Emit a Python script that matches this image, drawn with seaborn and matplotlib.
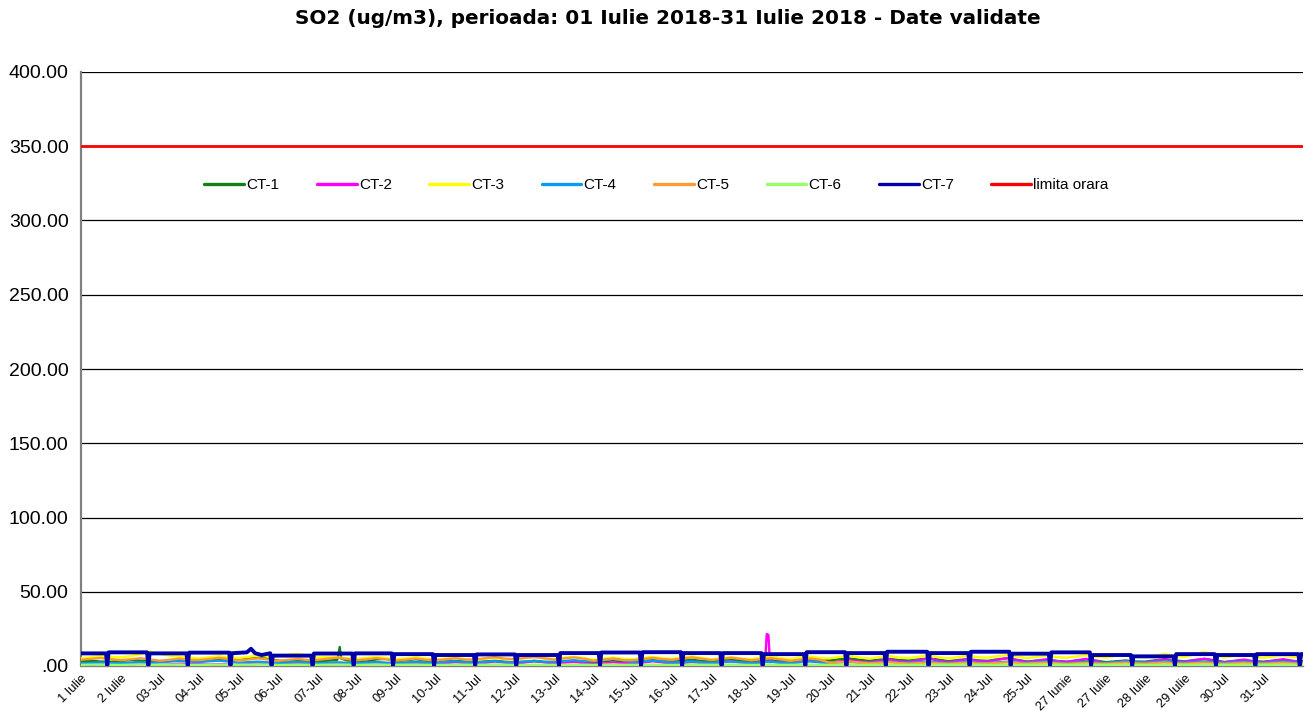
import numpy as np
import pandas as pd
import matplotlib
matplotlib.use("Agg")
import matplotlib.pyplot as plt
import seaborn as sns

# ---------------- data ----------------
title = "SO2 (ug/m3), perioada: 01 Iulie 2018-31 Iulie 2018 - Date validate"
x_tick_labels = ["1 Iulie", "2 Iulie", "03-Jul", "04-Jul", "05-Jul", "06-Jul", "07-Jul",
                 "08-Jul", "09-Jul", "10-Jul", "11-Jul", "12-Jul", "13-Jul", "14-Jul",
                 "15-Jul", "16-Jul", "17-Jul", "18-Jul", "19-Jul", "20-Jul", "21-Jul",
                 "22-Jul", "23-Jul", "24-Jul", "25-Jul", "27 Iunie", "27 Iulie",
                 "28 Iulie", "29 Iulie", "30-Jul", "31-Jul"]
y_ticks = [0, 50, 100, 150, 200, 250, 300, 350, 400]
y_tick_labels = [".00", "50.00", "100.00", "150.00", "200.00", "250.00", "300.00",
                 "350.00", "400.00"]
limit_value = 350

sample_hours = list(range(0, 745, 6))

ct1 = [3.2, 3.5, 3.0, 2.8, 3.4, 4.0, 3.6, 3.1, 2.9, 3.3, 4.1, 3.6, 3.0, 3.8, 4.4, 3.9,
       4.2, 5.5, 6.5, 4.8, 3.6, 3.2, 4.0, 3.5, 3.1, 3.6, 4.2, 3.8, 3.4, 3.0, 4.5, 4.8,
       3.2, 3.9, 4.6, 3.5, 2.8, 3.1, 3.4, 3.0, 2.6, 3.0, 3.5, 2.9, 2.5, 2.8, 3.2, 2.7,
       2.4, 2.9, 3.3, 2.6, 2.7, 3.2, 3.8, 3.0, 2.9, 3.4, 3.9, 3.3, 3.0, 3.6, 4.2, 3.4,
       3.1, 4.0, 4.5, 3.7, 2.8, 3.3, 3.9, 3.2, 3.0, 3.7, 4.3, 3.5, 3.8, 4.6, 5.0, 4.2,
       3.5, 4.2, 4.8, 4.0, 3.6, 4.4, 5.1, 4.3, 3.2, 4.0, 4.6, 3.8, 3.4, 4.5, 5.2, 4.1,
       3.0, 3.6, 4.2, 3.4, 2.8, 3.5, 4.4, 3.6, 2.6, 3.1, 3.7, 3.0, 2.9, 3.8, 4.5, 3.7,
       3.1, 4.0, 4.7, 3.9, 2.7, 3.3, 3.9, 3.1, 2.9, 3.5, 4.1, 3.3, 3.0]
ct1_peak_hours = [156.5, 157.5, 158.5]
ct1_peak_values = [6.0, 12.8, 5.0]

ct2 = [1.0, 0.8, 1.4, 1.2, 0.9, 1.1, 1.6, 1.3, 0.8, 1.0, 1.5, 1.2, 1.1, 0.9, 1.3, 1.0,
       0.8, 1.2, 1.7, 1.4, 1.0, 1.3, 1.8, 1.5, 0.9, 1.2, 1.6, 1.1, 1.0, 1.4, 1.9, 1.3,
       1.2, 1.5, 2.2, 1.6, 1.3, 1.8, 2.6, 1.9, 1.5, 2.0, 3.1, 2.2, 1.4, 2.3, 3.4, 2.5,
       1.6, 2.1, 2.8, 1.9, 1.3, 1.7, 2.4, 1.8, 1.5, 2.2, 3.2, 2.4, 1.4, 1.9, 2.7, 2.0,
       1.6, 2.4, 3.3, 2.3, 1.7, 2.2, 3.0, 2.1, 1.8, 2.6, 3.4, 2.5, 2.2, 3.1, 4.0, 3.0,
       2.5, 3.4, 4.4, 3.2, 2.8, 3.9, 5.0, 3.6, 2.6, 3.5, 4.6, 3.4, 3.0, 4.2, 5.3, 3.9,
       2.7, 3.6, 4.5, 3.3, 2.9, 3.8, 4.8, 3.5, 1.5, 2.6, 3.4, 2.2, 2.4, 3.5, 4.4, 3.2,
       2.8, 3.9, 4.9, 3.6, 2.5, 3.4, 4.3, 3.1, 2.6, 3.6, 4.6, 3.4, 3.0]
ct2_peak_hours = [416.5, 417.5, 418.5, 419.5]
ct2_peak_values = [2.5, 21.5, 21.0, 2.5]

ct3 = [5.2, 6.0, 6.8, 6.1, 5.8, 6.6, 7.9, 9.6, 8.2, 6.9, 6.4, 5.7, 5.1, 5.9, 6.6, 5.8,
       5.4, 6.2, 7.0, 6.3, 6.8, 7.6, 8.1, 6.9, 5.6, 6.1, 5.8, 5.2, 4.8, 5.5, 6.1, 5.3,
       4.6, 5.2, 5.9, 5.0, 4.4, 5.0, 5.6, 4.7, 4.2, 4.9, 5.4, 4.5, 4.5, 5.3, 6.0, 5.1,
       4.8, 5.6, 6.2, 5.4, 4.3, 5.0, 5.7, 4.9, 4.6, 5.4, 6.1, 5.2, 4.9, 5.8, 6.4, 5.5,
       4.5, 5.3, 5.9, 5.0, 4.7, 5.5, 6.2, 5.3, 4.8, 5.7, 6.3, 5.4, 5.2, 6.1, 6.8, 5.8,
       5.0, 6.0, 6.7, 5.7, 5.4, 6.3, 7.1, 6.0, 5.1, 6.0, 6.9, 5.9, 5.6, 6.6, 7.4, 6.4,
       5.3, 6.2, 7.0, 6.0, 5.5, 6.4, 7.2, 6.2, 5.7, 6.8, 7.6, 6.6, 6.0, 7.1, 8.0, 6.9,
       6.2, 7.8, 9.4, 7.5, 5.8, 6.7, 7.4, 6.3, 5.6, 6.5, 7.2, 6.1, 5.9]

ct4 = [1.8, 2.1, 2.4, 2.0, 1.9, 2.3, 2.6, 2.2, 2.5, 3.0, 3.4, 2.9, 2.7, 3.2, 3.6, 3.0,
       2.2, 2.6, 2.9, 2.4, 2.0, 2.4, 2.8, 2.3, 1.9, 2.2, 2.5, 2.1, 2.0, 2.3, 2.7, 2.2,
       2.1, 2.4, 2.8, 2.3, 2.3, 2.8, 3.2, 2.6, 2.4, 2.9, 3.3, 2.7, 2.5, 3.0, 3.5, 2.9,
       2.8, 3.4, 3.9, 3.2, 3.2, 4.0, 4.8, 3.8, 2.6, 3.1, 3.6, 3.0, 2.3, 2.7, 3.1, 2.5,
       2.2, 2.6, 3.0, 2.4, 2.1, 2.5, 2.9, 2.3, 2.2, 2.7, 3.1, 2.5, 2.0, 2.4, 2.8, 2.2,
       2.1, 2.5, 2.9, 2.3, 2.2, 2.6, 3.0, 2.4, 2.0, 2.4, 2.8, 2.2, 2.1, 2.5, 2.9, 2.3,
       2.2, 2.6, 3.0, 2.4, 2.0, 2.4, 2.8, 2.2, 2.1, 2.6, 3.1, 2.5, 2.3, 2.7, 3.2, 2.6,
       2.2, 2.6, 3.0, 2.4, 2.1, 2.5, 2.9, 2.3, 2.2, 2.6, 3.0, 2.4, 2.2]

ct5 = [4.2, 4.8, 5.4, 4.6, 3.9, 4.5, 5.2, 4.4, 3.6, 4.2, 5.0, 4.1, 4.0, 4.7, 5.5, 4.6,
       3.8, 4.4, 5.1, 4.3, 3.5, 4.1, 4.8, 4.0, 4.1, 4.9, 5.6, 4.7, 3.9, 4.6, 5.3, 4.4,
       3.7, 4.3, 5.0, 4.2, 3.8, 4.5, 5.2, 4.3, 4.4, 5.2, 5.9, 5.0, 4.6, 5.4, 6.1, 5.2,
       4.3, 5.1, 5.8, 4.9, 3.6, 4.2, 4.9, 4.0, 3.9, 4.7, 5.5, 4.6, 4.2, 5.0, 5.8, 4.9,
       4.0, 4.8, 5.6, 4.7, 3.8, 4.6, 5.3, 4.4, 3.5, 4.3, 5.0, 4.2, 2.2, 2.6, 3.0, 2.4,
       1.8, 2.2, 2.6, 2.0, 1.6, 2.0, 2.4, 1.8, 1.5, 1.9, 2.3, 1.7, 1.7, 2.1, 2.5, 1.9,
       1.6, 2.0, 2.4, 1.8, 1.4, 1.8, 2.2, 1.6, 1.5, 1.9, 2.3, 1.7, 1.6, 2.0, 2.4, 1.8,
       1.5, 1.9, 2.3, 1.7, 1.4, 1.8, 2.2, 1.6, 1.5, 1.9, 2.3, 1.7, 1.6]

ct6 = [0.8, 0.9, 1.0, 0.8, 0.7, 0.9, 1.1, 0.9, 0.8, 0.9, 1.0, 0.8, 0.7, 0.8, 1.0, 0.9,
       0.8, 0.9, 1.1, 0.9, 0.7, 0.8, 1.0, 0.8, 0.8, 0.9, 1.0, 0.9, 0.7, 0.9, 1.1, 0.8,
       0.8, 0.9, 1.0, 0.8, 0.7, 0.8, 1.0, 0.9, 0.8, 0.9, 1.1, 0.9, 0.7, 0.8, 1.0, 0.8,
       0.8, 0.9, 1.0, 0.9, 0.7, 0.9, 1.1, 0.8, 0.8, 0.9, 1.0, 0.8, 0.7, 0.8, 1.0, 0.9,
       0.8, 0.9, 1.1, 0.9, 0.7, 0.8, 1.0, 0.8, 0.8, 0.9, 1.0, 0.9, 0.7, 0.9, 1.1, 0.8,
       0.8, 0.9, 1.0, 0.8, 0.7, 0.8, 1.0, 0.9, 0.8, 0.9, 1.1, 0.9, 0.7, 0.8, 1.0, 0.8,
       0.8, 0.9, 1.0, 0.9, 0.7, 0.9, 1.1, 0.8, 0.8, 0.9, 1.0, 0.8, 0.7, 0.8, 1.0, 0.9,
       0.8, 0.9, 1.1, 0.9, 0.7, 0.8, 1.0, 0.8, 0.8, 0.9, 1.0, 0.9, 0.8]

# CT-7: steady level between short calibration dips (hours of the dips, level of each stretch)
ct7_dip_hours = [16, 41, 65, 91, 116, 141, 166, 190, 215, 240, 265, 291, 316, 341, 366,
                 390, 415, 441, 466, 490, 516, 541, 566, 590, 615, 640, 666, 691, 715, 742]
ct7_dip_value = 0.4
ct7_levels = [8.5, 9.2, 8.5, 9.0, 8.6, 7.0, 8.4, 8.5, 8.0, 7.4, 7.8, 7.4, 8.7, 9.1, 9.3,
              8.7, 8.7, 8.0, 9.3, 8.7, 9.6, 8.7, 9.6, 8.3, 9.2, 7.4, 6.5, 8.0, 7.4, 8.0, 8.0]
ct7_bump_hours = [101.0, 103.5, 106.0, 110.0]
ct7_bump_values = [9.2, 11.6, 8.6, 7.4]

series_names = ["CT-1", "CT-2", "CT-3", "CT-4", "CT-5", "CT-6", "CT-7", "limita orara"]
series_colors = ["#138013", "#ff00ff", "#ffff00", "#0a9af0", "#ff9933", "#99ff66",
                 "#0000a8", "#ff0000"]

# ---------------- build tables ----------------
def merged(hours, values, extra_h=(), extra_v=()):
    df = pd.DataFrame({"hour": list(hours) + list(extra_h),
                       "value": list(values) + list(extra_v)})
    return df.sort_values("hour").reset_index(drop=True)

tables = {
    "CT-1": merged(sample_hours, ct1, ct1_peak_hours, ct1_peak_values),
    "CT-2": merged(sample_hours, ct2, ct2_peak_hours, ct2_peak_values),
    "CT-3": merged(sample_hours, ct3),
    "CT-4": merged(sample_hours, ct4),
    "CT-5": merged(sample_hours, ct5),
    "CT-6": merged(sample_hours, ct6),
}

h7 = [0]
v7 = [ct7_levels[0]]
for i, d in enumerate(ct7_dip_hours):
    h7 += [d - 0.8, d, d + 0.8]
    v7 += [ct7_levels[i], ct7_dip_value, ct7_levels[i + 1]]
h7.append(744)
v7.append(ct7_levels[-1])
tables["CT-7"] = merged(h7, v7, ct7_bump_hours, ct7_bump_values)
tables["limita orara"] = pd.DataFrame({"hour": [0, 744], "value": [limit_value, limit_value]})

# ---------------- plot ----------------
sns.set_style("white")
plt.rcParams["font.family"] = ["Liberation Sans", "DejaVu Sans"]
plt.rcParams["text.color"] = "black"
plt.rcParams["xtick.color"] = "black"
plt.rcParams["ytick.color"] = "black"

fig = plt.figure(figsize=(13.1, 7.11), dpi=100)
ax = fig.add_axes([81 / 1310, 1 - 666 / 711, (1303 - 81) / 1310, (666 - 72) / 711])

widths = {"CT-7": 2.8, "limita orara": 2.0}
for name, color in zip(series_names, series_colors):
    sns.lineplot(data=tables[name], x="hour", y="value", ax=ax, color=color,
                 linewidth=widths.get(name, 1.7), label=name, estimator=None,
                 sort=False, zorder=3)

ax.set_xlim(0, 744)
ax.set_ylim(0, 400)
ax.set_yticks(y_ticks)
ax.set_yticklabels(y_tick_labels, fontsize=14)
ax.set_xticks([24 * i for i in range(len(x_tick_labels))])
ax.set_xticklabels(x_tick_labels, rotation=45, ha="right", rotation_mode="anchor",
                   fontsize=9.2)
ax.set_xlabel("")
ax.set_ylabel("")
ax.yaxis.grid(True, color="black", linewidth=0.9)
ax.xaxis.grid(False)
ax.set_axisbelow(True)
ax.tick_params(axis="x", which="major", direction="out", length=4, width=1,
               color="#808080", pad=0.5, labelcolor="black")
ax.tick_params(axis="y", which="major", direction="out", length=5, width=1,
               color="#808080", pad=4, labelcolor="black")
for s in ["top", "right"]:
    ax.spines[s].set_visible(False)
ax.spines["left"].set_color("#808080")
ax.spines["left"].set_linewidth(1.6)
ax.spines["bottom"].set_color("#808080")
ax.spines["bottom"].set_linewidth(1.0)

leg = ax.legend(loc="center", bbox_to_anchor=(0.471, 0.81), ncol=8, frameon=False,
                fontsize=11, handlelength=2.6, handletextpad=0.15, columnspacing=2.45)
for line in leg.get_lines():
    line.set_linewidth(2.4)

fig.text(668 / 1310, 1 - 19 / 711, title, ha="center", va="center", color="black",
         fontsize=14.4, fontweight="bold", family=["DejaVu Sans"])

fig.savefig("out.png", dpi=100)
